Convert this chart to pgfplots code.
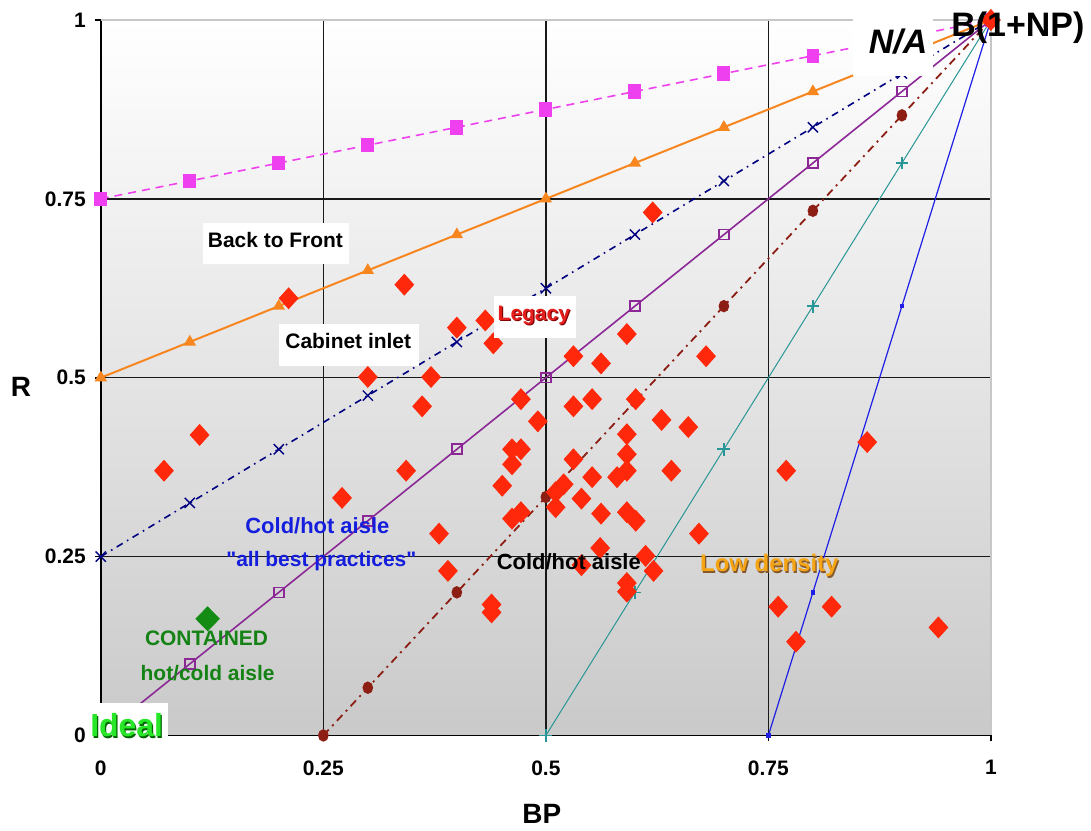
\documentclass[border=0pt]{standalone}
\usepackage{fontspec}
\setmainfont{Liberation Sans}
\usepackage{pgfplots}
\pgfplotsset{compat=1.18}
\definecolor{cMag}{RGB}{238,64,238}
\definecolor{cOra}{RGB}{247,134,30}
\definecolor{cNavy}{RGB}{0,0,128}
\definecolor{cPur}{RGB}{140,40,150}
\definecolor{cDRed}{RGB}{140,30,20}
\definecolor{cTeal}{RGB}{40,150,150}
\definecolor{cBlue}{RGB}{30,30,230}
\definecolor{cDia}{RGB}{255,40,10}
\definecolor{cGreenD}{RGB}{20,140,20}
\definecolor{cTxtBlue}{RGB}{20,30,220}
\definecolor{cLegacy}{RGB}{230,30,30}
\definecolor{cLow}{RGB}{245,165,20}
\definecolor{cCont}{RGB}{20,130,20}
\definecolor{cIdeal}{RGB}{40,230,40}
\begin{document}
\begin{tikzpicture}
\begin{axis}[
  scale only axis, width=446pt, height=358.5pt,
  xmin=0, xmax=1, ymin=0, ymax=1,
  clip=false,
  axis lines*=left,
  axis line style={black, line width=0.8pt},
  xtick={0,0.25,0.5,0.75,1}, ytick={0,0.25,0.5,0.75,1},
  xticklabels={0,0.25,0.5,0.75,1}, yticklabels={0,0.25,0.5,0.75,1},
  tick align=outside, major tick length=3pt,
  tick style={black, line width=0.8pt},
  grid=major, major grid style={black!90, line width=0.75pt},
  ticklabel style={font=\bfseries\fontsize{10.5}{12}\selectfont},
  xticklabel style={yshift=-6pt},
  yticklabel style={xshift=-1pt},
  xlabel={BP}, ylabel={R},
  label style={font=\bfseries\fontsize{14}{16}\selectfont},
  xlabel style={at={(axis description cs:0.4955,-0.110)}, anchor=center},
  ylabel style={at={(axis description cs:-0.0897,0.487)}, anchor=center, rotate=-90},
  axis background/.style={top color=white, bottom color=black!21},
  after end axis/.append code={
    \fill[white] (axis cs:0.8453,1.0028) rectangle (axis cs:0.9350,0.9219);
    \node[font=\bfseries\itshape\fontsize{17}{20}\selectfont] at (axis cs:0.8957,0.9693) {N/A};
    \node[font=\bfseries\fontsize{17}{20}\selectfont] at (axis cs:1.0303,0.9888) {B(1+NP)};
    \fill[white] (axis cs:-0.0146,0.046) rectangle (axis cs:0.0751,-0.018);
    \node[font=\bfseries\fontsize{16}{18}\selectfont, text=green!40!black] at ([xshift=0.6pt,yshift=-0.6pt]axis cs:0.0291,0.0139) {Ideal};
    \node[font=\bfseries\fontsize{16}{18}\selectfont, text=cIdeal] at (axis cs:0.0291,0.0139) {Ideal};
    \fill[white] (axis cs:0.1143,0.7169) rectangle (axis cs:0.2791,0.6583);
    \node[font=\bfseries\fontsize{10.5}{12}\selectfont] at (axis cs:0.1962,0.6918) {Back to Front};
    \fill[white] (axis cs:0.2007,0.5746) rectangle (axis cs:0.3576,0.5160);
    \node[font=\bfseries\fontsize{10.5}{12}\selectfont] at (axis cs:0.278,0.551) {Cabinet inlet};
    \fill[white] (axis cs:0.4417,0.6137) rectangle (axis cs:0.5336,0.5551);
    \node[font=\bfseries\fontsize{10.5}{12}\selectfont, text=red!50!black] at ([xshift=0.6pt,yshift=-0.6pt]axis cs:0.4865,0.587) {Legacy};
    \node[font=\bfseries\fontsize{10.5}{12}\selectfont, text=cLegacy] at (axis cs:0.4865,0.587) {Legacy};
    \node[font=\bfseries\fontsize{11}{13}\selectfont, text=cTxtBlue] at (axis cs:0.2433,0.2929) {Cold/hot aisle};
    \node[font=\bfseries\fontsize{10.5}{12}\selectfont, text=cTxtBlue] at (axis cs:0.2478,0.2441) {\textquotedbl all best practices\textquotedbl};
    \node[font=\bfseries\fontsize{11}{13}\selectfont] at (axis cs:0.5258,0.2427) {Cold/hot aisle};
    \node[font=\bfseries\fontsize{12}{14}\selectfont, text=brown!70!black] at ([xshift=0.6pt,yshift=-0.6pt]axis cs:0.7511,0.2371) {Low density};
    \node[font=\bfseries\fontsize{12}{14}\selectfont, text=cLow] at (axis cs:0.7511,0.2371) {Low density};
    \node[font=\bfseries\fontsize{10.5}{12}\selectfont, text=cCont] at (axis cs:0.1188,0.1353) {CONTAINED};
    \node[font=\bfseries\fontsize{10.5}{12}\selectfont, text=cCont] at (axis cs:0.12,0.0865) {hot/cold aisle};
  },
]
\coordinate (BL) at (rel axis cs:-0.11323,-0.12971);
\coordinate (TR) at (rel axis cs:1.10987,1.02789);
\draw[black!22, line width=1.2pt] (rel axis cs:0,1) -- (rel axis cs:1,1) -- (rel axis cs:1,0);

\addplot[cMag, line width=0.8pt, dash pattern=on 4pt off 3pt, mark=square*, mark size=2.8pt, mark options={solid, yscale=1.15}]
  coordinates {(0,0.75)(0.1,0.775)(0.2,0.8)(0.3,0.825)(0.4,0.85)(0.5,0.875)(0.6,0.9)(0.7,0.925)(0.8,0.95)(0.9,0.975)(1,1)};
\addplot[cOra, line width=1pt, mark=triangle*, mark size=2.6pt]
  coordinates {(0,0.5)(0.1,0.55)(0.2,0.6)(0.3,0.65)(0.4,0.7)(0.5,0.75)(0.6,0.8)(0.7,0.85)(0.8,0.9)(0.9,0.95)(1,1)};
\addplot[cNavy, line width=0.8pt, dash pattern=on 3.5pt off 2.5pt on 0.8pt off 2.5pt, mark=x, mark size=3.6pt, mark options={solid, line width=0.7pt}]
  coordinates {(0,0.25)(0.1,0.325)(0.2,0.4)(0.3,0.475)(0.4,0.55)(0.5,0.625)(0.6,0.7)(0.7,0.775)(0.8,0.85)(0.9,0.925)(1,1)};
\addplot[cPur, line width=0.8pt, mark=square, mark size=2.5pt]
  coordinates {(0,0)(0.1,0.1)(0.2,0.2)(0.3,0.3)(0.4,0.4)(0.5,0.5)(0.6,0.6)(0.7,0.7)(0.8,0.8)(0.9,0.9)(1,1)};
\addplot[cDRed, line width=0.9pt, dash pattern=on 4pt off 2.5pt on 1pt off 2.5pt, mark=*, mark size=2.2pt, mark options={solid, yscale=1.2}]
  coordinates {(0.25,0)(0.3,0.0667)(0.4,0.2)(0.5,0.3333)(0.6,0.4667)(0.7,0.6)(0.8,0.7333)(0.9,0.8667)(1,1)};
\addplot[cTeal, line width=0.5pt, mark=+, mark size=3.2pt, mark options={line width=0.8pt}]
  coordinates {(0.5,0)(0.6,0.2)(0.7,0.4)(0.8,0.6)(0.9,0.8)(1,1)};
\addplot[cBlue, line width=0.6pt, mark=square*, mark size=0.8pt]
  coordinates {(0.75,0)(0.8,0.2)(0.9,0.6)(1,1)};

\addplot[only marks, mark=diamond*, mark size=5.2pt, mark options={draw=cDia, fill=cDia, xscale=1.2}]
  coordinates {
  (0.620,0.731)(0.211,0.611)(0.341,0.630)(0.400,0.570)(0.432,0.580)(0.441,0.548)
  (0.300,0.501)(0.371,0.501)(0.361,0.460)(0.531,0.530)(0.562,0.520)(0.591,0.561)
  (0.680,0.530)(0.472,0.470)(0.491,0.439)(0.531,0.460)(0.552,0.470)(0.601,0.470)
  (0.630,0.441)(0.660,0.431)(0.591,0.421)(0.591,0.393)(0.462,0.400)(0.472,0.400)
  (0.531,0.386)(0.343,0.370)(0.462,0.379)(0.451,0.349)(0.552,0.361)(0.580,0.361)
  (0.591,0.370)(0.641,0.370)(0.511,0.340)(0.520,0.351)(0.511,0.319)(0.540,0.331)
  (0.562,0.310)(0.591,0.312)(0.601,0.300)(0.462,0.303)(0.472,0.312)(0.380,0.282)
  (0.672,0.282)(0.561,0.262)(0.540,0.238)(0.612,0.251)(0.621,0.230)(0.591,0.213)
  (0.591,0.201)(0.390,0.230)(0.439,0.183)(0.439,0.172)(0.111,0.420)(0.071,0.370)
  (0.271,0.332)(0.761,0.180)(0.821,0.180)(0.781,0.131)(0.941,0.151)(0.770,0.370)
  (0.861,0.410)(1,1)};
\addplot[only marks, mark=diamond*, mark size=6pt, mark options={draw=cGreenD, fill=cGreenD, xscale=1.3}]
  coordinates {(0.120,0.163)};
\end{axis}
\path (BL) rectangle (TR);
\end{tikzpicture}
\end{document}
